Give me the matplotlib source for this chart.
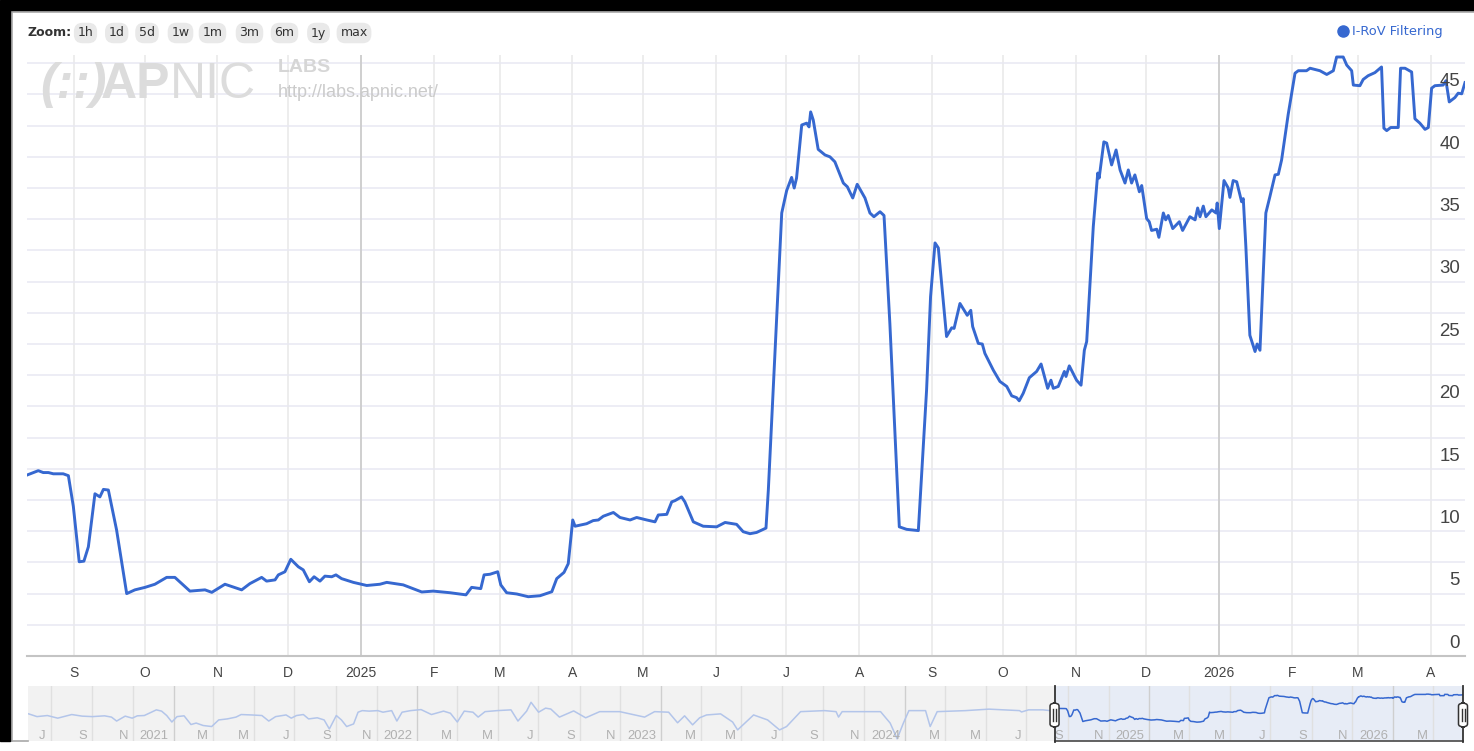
import numpy as np
import pandas as pd
import matplotlib
matplotlib.use('Agg')
import matplotlib.pyplot as plt
from matplotlib.patches import Rectangle, FancyBboxPatch
from matplotlib.lines import Line2D
from matplotlib.transforms import ScaledTranslation, blended_transform_factory

W, H = 1474, 751
START = pd.Timestamp('2024-08-12')

# I-RoV filtering (%), days counted from START
rov_days = [0, 4.8, 6.9, 9.1, 11.2, 15.4, 17.6, 19.7, 22.2, 24.2, 26.1, 28.9, 31.0, 32.5, 34.6, 38.1,
            42.4, 45.9, 50.2, 54.4, 59.4, 62.9, 69.3, 75.7, 78.6, 84.2, 91.3, 94.8, 99.8, 101.9, 105.5,
            106.9, 109.7, 112.2, 115.4, 117.5, 120.1, 122.1, 124.6, 126.7, 129.6, 131.4, 133.8, 138.8,
            144.5, 150.1, 153.0, 160.0, 167.9, 172.8, 179.9, 186.7, 189.1, 193.0, 194.4, 196.9, 200.2,
            201.5, 204.0, 208.3, 213.2, 218.2, 223.2, 225.3, 228.4, 230.2, 232.1, 233.1, 238.0, 240.8,
            243.0, 245.1, 249.4, 252.2, 256.5, 259.3, 263.6, 267.1, 268.5, 272.1, 274.2, 275.6, 278.4,
            279.8, 283.4, 287.6, 293.3, 296.9, 301.8, 304.6, 307.5, 310.3, 314.3, 315.3, 321.0, 323.1,
            325.2, 326.3, 327.3, 329.5, 331.6, 332.6, 333.3, 334.4, 336.5, 339.4, 341.5, 343.6, 347.2,
            348.9, 351.2, 353.1, 356.4, 358.5, 360.2, 362.8, 364.5, 367.0, 371.0, 374.1, 379.1, 382.6,
            384.3, 386.2, 387.6, 391.1, 393.3, 394.3, 396.8, 399.9, 401.4, 402.2, 404.6, 406.3, 407.4,
            411.0, 413.8, 416.7, 418.8, 420.9, 422.0, 423.7, 426.3, 429.4, 431.3, 434.1, 435.5, 436.5,
            438.6, 441.2, 441.9, 443.3, 446.4, 448.3, 449.7, 450.7, 453.5, 455.4, 456.0, 458.0, 459.2,
            461.3, 463.2, 464.9, 467.0, 468.4, 469.8, 471.2, 473.1, 474.1, 476.2, 477.3, 478.3, 480.5,
            481.4, 483.3, 484.3, 485.4, 487.3, 490.1, 491.5, 494.6, 496.8, 497.9, 498.9, 500.3, 501.4,
            503.9, 505.7, 506.2, 507.1, 509.1, 510.9, 511.6, 513.0, 514.5, 516.6, 517.3, 518.4, 520.1,
            522.3, 523.2, 524.4, 526.9, 528.6, 530.8, 532.2, 533.6, 536.4, 539.3, 540.7, 544.2, 545.7,
            549.9, 552.8, 555.6, 557.0, 559.8, 561.3, 563.4, 564.1, 566.9, 568.3, 570.4, 573.3, 576.1,
            577.1, 578.3, 580.0, 583.2, 584.2, 586.1, 588.9, 590.3, 592.4, 594.6, 596.0, 597.4, 598.8,
            602.3, 603.5, 604.9, 607.3, 608.7, 610.2, 611.6]
rov_vals = [14.5, 14.85, 14.7, 14.7, 14.6, 14.6, 14.45, 12.0, 7.55, 7.6, 8.75, 13.0, 12.75, 13.35, 13.3, 10.1,
            5.0, 5.3, 5.5, 5.75, 6.3, 6.3, 5.2, 5.3, 5.1, 5.75, 5.3, 5.8, 6.3, 6.0, 6.1,
            6.5, 6.75, 7.75, 7.15, 6.9, 5.95, 6.35, 6.0, 6.4, 6.35, 6.5, 6.2, 5.9,
            5.65, 5.75, 5.9, 5.7, 5.13, 5.2, 5.07, 4.9, 5.5, 5.4, 6.5, 6.55, 6.75,
            5.7, 5.07, 4.97, 4.75, 4.83, 5.15, 6.2, 6.7, 7.4, 10.9, 10.4, 10.6, 10.85,
            10.9, 11.2, 11.5, 11.1, 10.9, 11.1, 10.9, 10.75, 11.3, 11.35, 12.35, 12.45, 12.75,
            12.35, 10.75, 10.4, 10.35, 10.7, 10.55, 9.96, 9.8, 9.9, 10.25, 13.3, 35.5, 37.3,
            38.35, 37.5, 38.3, 42.55, 42.7, 42.4, 43.6, 42.95, 40.6, 40.15, 40.0, 39.6, 37.9,
            37.6, 36.7, 37.8, 36.7, 35.5, 35.2, 35.6, 35.3, 26.6, 10.35, 10.15, 10.05, 21.3,
            28.8, 33.1, 32.7, 25.6, 26.3, 26.25, 28.25, 27.3, 27.7, 26.4, 25.05, 25.0, 24.25,
            22.9, 22.0, 21.6, 20.85, 20.7, 20.45, 21.05, 22.3, 22.8, 23.4, 21.45, 22.1, 21.45,
            21.6, 22.8, 22.4, 23.25, 22.1, 21.7, 24.5, 25.2, 34.4, 38.7, 38.3, 41.2, 41.1,
            39.35, 40.55, 38.95, 37.9, 38.95, 37.9, 38.55, 37.2, 37.7, 35.05, 34.8, 34.1, 34.2,
            33.55, 35.5, 34.95, 35.3, 34.25, 34.8, 34.1, 35.2, 34.95, 35.9, 35.2, 36.05, 35.2,
            35.75, 35.5, 36.3, 34.25, 38.1, 37.5, 36.75, 38.1, 38.0, 36.4, 36.65, 32.8, 25.7,
            24.4, 25.0, 24.5, 35.5, 36.8, 38.55, 38.6, 39.75, 43.4, 46.7, 46.9, 46.9, 47.1,
            46.9, 46.6, 46.9, 48.0, 48.0, 47.35, 46.9, 45.75, 45.7, 46.2, 46.5, 46.75, 47.2,
            42.3, 42.1, 42.35, 42.35, 47.1, 47.1, 46.8, 43.05, 42.7, 42.2, 42.35, 45.5, 45.7,
            45.75, 46.1, 44.4, 44.75, 45.1, 45.05, 45.95]

# navigator history before START (days relative to START)
hist_days = [-1536, -1523.5, -1508, -1492.5, -1471.5, -1456, -1440.6, -1422.4, -1412, -1404.3, -1391.5,
             -1381, -1373.3, -1362.9, -1344.8, -1337, -1329.3, -1321.6, -1313.8, -1303.3, -1293, -1285.2,
             -1274.8, -1262, -1251.5, -1238.6, -1225.6, -1217.8, -1202.4, -1186.8, -1176.5, -1166.2,
             -1150.6, -1142.8, -1135, -1124.7, -1116.9, -1103.9, -1093.6, -1085.8, -1075.4, -1067.7,
             -1059.9, -1049.5, -1042.8, -1036.5, -1026.2, -1013.3, -1005.5, -992.5, -984.7, -976.9,
             -964.1, -948.5, -932.9, -914.8, -904.5, -894.2, -883.8, -870.8, -863, -852.7, -834.6,
             -813.8, -803.4, -790.4, -783.8, -772.5, -762, -754.2, -741.3, -720, -702, -681, -651,
             -613.8, -598.8, -577.8, -564.4, -553.9, -541.9, -531.4, -521, -500, -482, -474.5, -450.6,
             -429.6, -411.7, -401.2, -380.2, -344.3, -327.1, -323.4, -318, -289, -260.5, -246.1,
             -235.6, -226.3, -218, -193.1, -186.2, -175.7, -133.2, -98.2, -52.4, -49.4, -38.9, -17.2,
             -6.6, 0]
hist_vals = [9.4, 7.5, 8.2, 6.6, 8.9, 7.8, 7.5, 8.0, 7.2, 5.2, 7.8,
             6.6, 8.0, 8.2, 13.1, 11.8, 8.2, 4.8, 7.5, 8.0, 3.9, 4.4,
             3.6, 3.3, 5.7, 6.2, 7.2, 8.9, 8.6, 8.2, 5.2, 7.5,
             8.6, 6.6, 8.2, 8.9, 6.2, 6.8, 5.7, 2.7, 8.2, 5.7,
             3.3, 4.1, 10.8, 12.3, 11.8, 12.3, 10.8, 12.3, 5.2, 10.8,
             12.3, 13.4, 8.9, 11.8, 9.9, 4.8, 11.8, 10.8, 7.2, 11.3, 12.3,
             13.1, 5.2, 11.8, 24.5, 10.8, 15.1, 14.0, 7.2, 12.0, 6.8, 11.3, 11.3,
             7.2, 11.3, 10.8, 4.5, 8.0, 3.8, 6.8, 8.6, 9.4, 4.8, 2.5, 8.6,
             5.7, 2.5, 3.3, 11.3, 12.3, 11.3, 7.2, 11.3, 11.3, 11.3, 4.4,
             1.2, 4.4, 12.3, 12.3, 3.3, 11.3, 12.3, 13.9, 12.3, 11.0, 13.1, 13.1,
             12.3, 14.5]

month_labels = ['S', 'O', 'N', 'D', '2025', 'F', 'M', 'A', 'M', 'J', 'J', 'A', 'S', 'O', 'N', 'D',
                '2026', 'F', 'M', 'A']
nav_labels = ['J', 'S', 'N', '2021', 'M', 'M', 'J', 'S', 'N', '2022', 'M', 'M', 'J', 'S', 'N', '2023',
              'M', 'M', 'J', 'S', 'N', '2024', 'M', 'M', 'J', 'S', 'N', '2025', 'M', 'M', 'J', 'S', 'N',
              '2026', 'M']
y_labels = [0, 5, 10, 15, 20, 25, 30, 35, 40, 45]
zoom_buttons = ['1h', '1d', '5d', '1w', '1m', '3m', '6m', '1y', 'max']
series_name = 'I-RoV Filtering'

BLUE = '#3668d0'
END = START + pd.Timedelta(days=611.6)
NAV_START = START - pd.Timedelta(days=1537)


def to_dates(days):
    return START + pd.to_timedelta(np.asarray(days, dtype=float), unit='D')


def fx(x):
    return x / W


def fy(y):
    return 1 - y / H


fig = plt.figure(figsize=(W / 100, H / 100), dpi=100)
fig.patch.set_facecolor('white')

# ---------------- main chart ----------------
ax = fig.add_axes([fx(27), fy(656), fx(1465) - fx(27), fy(55) - fy(656)])
ax.plot(to_dates(rov_days), rov_vals, color=BLUE, lw=2.1, solid_joinstyle='round', zorder=3)
ax.set_xlim(START, END)
ax.set_ylim(0, 48.16)
ax.set_axisbelow(True)
for s in ['top', 'right', 'left']:
    ax.spines[s].set_visible(False)
ax.spines['bottom'].set_color('#c4c4c4')
ax.spines['bottom'].set_linewidth(1.5)

ax.set_yticks(np.arange(0, 48, 2.5))
ax.tick_params(axis='y', length=0, labelleft=False)
ax.yaxis.grid(True, color='#e8e8f2', lw=1.1)

month_ticks = pd.date_range('2024-09-01', periods=len(month_labels), freq='MS')
ax.set_xticks(month_ticks)
ax.set_xticklabels(month_labels, fontsize=10, color='#444444', family='Liberation Sans')
ax.tick_params(axis='x', length=0, pad=7.5)
ax.xaxis.grid(True, color='#e8e8e8', lw=1.1)
for t, lab in zip(month_ticks, month_labels):
    if lab.isdigit():
        ax.axvline(t, color='#c8c8c8', lw=1.1, zorder=1)

ylab_tr = ax.get_yaxis_transform() + ScaledTranslation(-5 / 100, 8.3 / 100, fig.dpi_scale_trans)
for v in y_labels:
    ax.text(1, v, str(v), transform=ylab_tr, ha='right', va='baseline', fontsize=13.4,
            color='#444444', family='Liberation Sans', zorder=4)

# ---------------- navigator ----------------
nav = fig.add_axes([fx(28), fy(741), fx(1463) - fx(28), fy(686) - fy(741)])
nav.set_facecolor('#f2f2f2')
nav.set_yscale('log')
nav.set_xlim(NAV_START, END)
nav.set_ylim(1.0, 94)
nav.axvspan(START, END, color='#e7ecf6', lw=0, zorder=0)
nav_ticks = pd.date_range('2020-07-01', periods=len(nav_labels), freq='2MS')
for t, lab in zip(nav_ticks, nav_labels):
    nav.axvline(t, color='#cfcfcf' if lab.isdigit() else '#e0e0e0', lw=1, zorder=1)
nav.plot(to_dates(hist_days), hist_vals, color='#b3c5ea', lw=1.1, zorder=2)
nav.plot(to_dates(rov_days), rov_vals, color=BLUE, lw=1.1, zorder=2)
nav.set_xticks([])
nav.set_yticks([])
nav.minorticks_off()
for s in nav.spines.values():
    s.set_visible(False)

navlab_tr = blended_transform_factory(nav.transData, nav.transAxes) + \
    ScaledTranslation(-5 / 100, 2 / 100, fig.dpi_scale_trans)
for t, lab in zip(nav_ticks, nav_labels):
    if NAV_START < t < END:
        nav.text(t, 0, lab, transform=navlab_tr, ha='right', va='baseline', fontsize=9.4,
                 color='#b0b0b0', family='Liberation Sans', zorder=3)

nav.plot([START, END], [1.0, 1.0], color='#555555', lw=1.3, clip_on=False, zorder=4)
for t in [START, END]:
    nav.plot([t, t], [0.93, 94], color='#333333', lw=1.3, clip_on=False, zorder=4)
    xp = nav.transData.transform((matplotlib.dates.date2num(t), 10))[0]
    hx = xp / fig.dpi
    box = FancyBboxPatch((fx(hx * 100 - 4.5), fy(727)), fx(9), (727 - 703) / H,
                         boxstyle='round,pad=0,rounding_size=0.004', transform=fig.transFigure,
                         fc='white', ec='#333333', lw=1.1, zorder=6)
    fig.add_artist(box)
    for dx in (-1.5, 1.5):
        fig.add_artist(Line2D([fx(hx * 100 + dx)] * 2, [fy(721), fy(709)], color='#333333',
                              lw=1.0, transform=fig.transFigure, zorder=7))

# ---------------- header: zoom buttons, legend, watermark ----------------
fig.text(fx(27), fy(33), 'Zoom:', ha='left', va='center', fontsize=9, fontweight='bold',
         color='#333333', family='DejaVu Sans')
btn_x = [85.5, 116.7, 147, 180.5, 212.5, 249.5, 284.5, 318.5, 354]
for bx, lab in zip(btn_x, zoom_buttons):
    fig.text(fx(bx), fy(33), lab, ha='center', va='center', fontsize=9, color='#333333',
             family='DejaVu Sans',
             bbox=dict(boxstyle='round,pad=0.3,rounding_size=0.7', fc='#e9e9e9', ec='none'))

fig.add_artist(Line2D([fx(1343)], [fy(31)], marker='o', ms=8, color=BLUE, transform=fig.transFigure))
fig.text(fx(1352), fy(31), series_name, ha='left', va='center', fontsize=9.4, color=BLUE,
         family='DejaVu Sans')

# watermark pieces laid out one after another
renderer = fig.canvas.get_renderer()
wm_x = 40
for part, kw in [('(::)', dict(fontweight='bold', fontstyle='italic')),
                 ('AP', dict(fontweight='bold')),
                 ('NIC', dict())]:
    t = fig.text(fx(wm_x), fy(98), part, ha='left', va='baseline', fontsize=36,
                 color='#dcdcdc', family='Liberation Sans', zorder=0, **kw)
    wm_x += t.get_window_extent(renderer).width - (6 if part == '(::)' else 0)
fig.text(fx(278), fy(72), 'LABS', ha='left', va='baseline', fontsize=14, fontweight='bold',
         color='#d6d6d6', family='Liberation Sans', zorder=0)
fig.text(fx(278), fy(97), 'http://labs.apnic.net/', ha='left', va='baseline', fontsize=13,
         color='#cbcbcb', family='Liberation Sans', zorder=0)

# ---------------- screenshot frame ----------------
fig.add_artist(Rectangle((0, fy(10)), 1, 10 / H, transform=fig.transFigure, color='black', zorder=10))
fig.add_artist(Rectangle((0, fy(741)), fx(10), (741 - 10) / H, transform=fig.transFigure,
                         color='black', zorder=10))
fig.add_artist(Line2D([fx(11), 1], [fy(11.5)] * 2, color='#a8a8a8', lw=1.2, transform=fig.transFigure))
fig.add_artist(Line2D([fx(11.5)] * 2, [fy(11), fy(741)], color='#a8a8a8', lw=1.2,
                      transform=fig.transFigure))
fig.add_artist(Line2D([fx(11), fx(28)], [fy(741)] * 2, color='#a8a8a8', lw=1.2,
                      transform=fig.transFigure))

fig.savefig('out.png', dpi=100)
